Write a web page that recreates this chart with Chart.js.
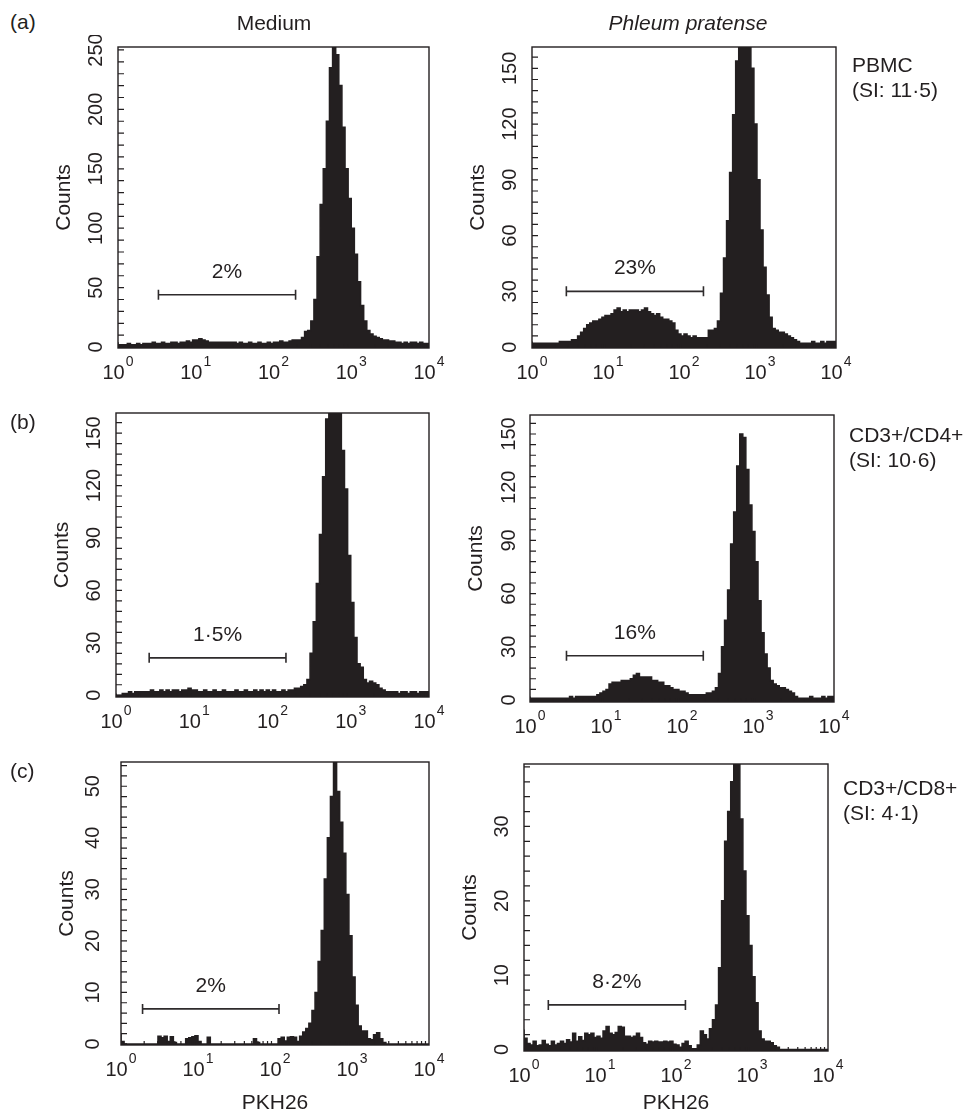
<!DOCTYPE html>
<html>
<head>
<meta charset="utf-8">
<title>PKH26 dilution histograms</title>
<script src="https://cdn.jsdelivr.net/npm/chart.js@4.4.1/dist/chart.umd.min.js"></script>
<style>
  body { margin: 0; background: #fff; }
  #page { position: relative; width: 967px; height: 1111px; overflow: hidden;
          font-family: "Liberation Sans", Arial, Helvetica, sans-serif; color: #231f20; }
  .lbl { position: absolute; font-size: 21px; line-height: 25px; white-space: nowrap; }
  .ctr { width: 300px; text-align: center; }
  canvas { position: absolute; }
</style>
</head>
<body>
<div id="page">
  <div class="lbl" style="left:10px;top:9px">(a)</div>
  <div class="lbl" style="left:10px;top:409px">(b)</div>
  <div class="lbl" style="left:10px;top:758px">(c)</div>
  <div class="lbl ctr" style="left:124px;top:10px">Medium</div>
  <div class="lbl ctr" style="left:538px;top:10px"><i>Phleum pratense</i></div>
  <div class="lbl" style="left:852px;top:52px">PBMC<br>(SI: 11·5)</div>
  <div class="lbl" style="left:849px;top:422px">CD3+/CD4+<br>(SI: 10·6)</div>
  <div class="lbl" style="left:843px;top:775px">CD3+/CD8+<br>(SI: 4·1)</div>
</div>

<script>
// --- data: counts per channel, 100 channels over 4 decades (25 per decade) ---
const medPBMC = [4,2,2,2,3,2,2,3,2,3, 3,3,4,3,3,4,3,3,4,4, 3,4,4,5,4,6,6,7,6,5, 4,4,4,4,4,4,4,4,4,3,
  4,3,3,4,3,3,4,3,3,4, 3,4,4,5,4,4,5,6,6,6, 8,13,14,22,40,76,120,150,190,235,
  253,246,220,185,150,125,100,78,55,35, 22,14,11,9,8,7,6,6,5,5, 4,4,3,4,3,4,4,3,4,3];
const phlPBMC = [3,2,2,2,2,2,2,2,2,2, 3,3,3,3,4,4,6,8,10,12, 13,14,14,15,16,17,17,18,20,21,
  19,20,19,20,20,20,19,20,21,19, 18,17,18,16,15,15,14,13,9,7, 6,7,6,5,6,5,5,5,5,9,
  9,10,14,29,48,68,94,125,154,168, 180,182,170,150,120,90,63,43,28,16,
  10,9,8,8,7,6,5,4,3,2, 2,2,2,3,2,2,3,2,3,3];
const medCD4 = [1,0,0,1,1,2,1,2,2,2, 2,2,3,2,2,3,2,3,2,3, 3,2,3,3,4,3,3,2,2,3, 2,2,3,2,2,3,2,2,2,3,
  2,2,3,2,2,3,2,3,2,3, 2,3,2,2,3,2,3,3,4,4, 5,6,9,24,42,64,92,125,158,172,
  182,178,166,140,118,80,53,33,18,16, 9,7,8,7,6,4,3,2,2,2, 2,1,2,2,1,2,2,1,2,2];
const phlCD4 = [2,1,1,1,1,1,1,1,1,1, 1,1,1,1,2,1,2,2,2,2, 2,2,2,3,4,5,6,9,10,10,
  10,11,11,11,12,14,15,13,13,13, 13,11,11,10,10,8,8,7,6,6, 5,5,4,3,3,3,3,3,3,4,
  4,5,7,15,30,45,62,88,106,132, 150,148,130,110,95,78,56,38,26,18,
  11,9,8,7,7,6,5,4,2,1, 1,1,1,2,1,1,1,2,1,2];
const medCD8 = [2,0.5,0,0,0,0,0,0,0,0, 0,0,0,1.5,1.2,1.5,0.5,1.4,0.3,0, 0,0,1,1.2,1.4,1.6,0.5,0,0,1.3,
  0,0,0,0,0,0,0,0,0,0, 0,0,0,0,1,0.3,0,0,0,0, 0,0,1,1.3,0.6,1.3,1.4,1.3,0.5,1.5,
  2.3,3,4,6.5,10,16,22,32,40,48, 55,49,43,37,29,21,13,7.5,3.5,2.5,
  2.5,1,0.8,1.8,2.2,1,0.3,0,0,0, 0,0,0,0,0,0,0,0,0,0];
const phlCD8 = [2.7,1.5,0.8,0.6,1.1,0.5,0.6,1.2,0.7,0.5, 1.1,0.6,0.8,1.1,0.8,1.3,1.0,2.2,1.1,1.7,
  1.2,2.2,2.0,2.2,1.6,1.8,1.5,2.5,3.1,2.2, 2.0,2.3,3.1,3.0,1.8,1.8,1.6,1.8,2.2,1.6,
  0.9,0.7,1.1,1.0,1.1,1.0,1.0,1.1,1.0,1.1, 0.7,0.6,0.3,0.8,1.1,0.5,0.1,0.1,0.6,2.5,
  2.0,1.4,2.8,4.0,6,11,20,28,32,36, 42,40,31,24,18,14,9.8,6.3,2.5,1.4,
  1.1,1.1,0.9,0.5,0.3,0,0,0,0,0, 0,0,0,0,0,0,0,0,0,0];

// x ticks: decades 10^0..10^4 sit on channels 0,25,50,75,100
const decadeChannels = [0, 25, 50, 75, 100];
const decadeExponents = ['0', '1', '2', '3', '4'];

// y tick labels
const yTicksPBMCMed = ['0', '50', '100', '150', '200', '250'];
const yTicks150 = ['0', '30', '60', '90', '120', '150'];
const yTicksCD8Med = ['0', '10', '20', '30', '40', '50'];
const yTicksCD8Phl = ['0', '10', '20', '30'];

// gates (channels / counts)
const gateFrom = [13, 11.3, 10.6, 12, 7, 8];
const gateTo = [57.1, 56.4, 54.3, 57, 51.3, 53.1];
const gateLevel = [44, 30, 21.4, 25, 6.8, 6];
const gateLabels = ['2%', '23%', '1·5%', '16%', '2%', '8·2%'];

const INK = '#231f20';
const FONT = '"Liberation Sans", Arial, Helvetica, sans-serif';

// --- panel layout: frame [left, top, right, bottom] in page px ---
const panels = [
  { counts: medPBMC, frame: [118, 47, 429, 348], yMin: -0.8, yMax: 252.5, yStep: 10, yMajor: 50, yLabels: yTicksPBMCMed, yGap: 16 },
  { counts: phlPBMC, frame: [532, 47, 836, 348], yMin: -0.5, yMax: 161.5, yStep: 6, yMajor: 30, yLabels: yTicks150, yGap: 16 },
  { counts: medCD4, frame: [116, 413, 429, 697], yMin: -1, yMax: 161.5, yStep: 6, yMajor: 30, yLabels: yTicks150, yGap: 16 },
  { counts: phlCD4, frame: [530, 415, 834, 702], yMin: -1.1, yMax: 160.7, yStep: 6, yMajor: 30, yLabels: yTicks150, yGap: 15 },
  { counts: medCD8, frame: [121, 762, 429, 1045], yMin: -0.2, yMax: 54.7, yStep: 2, yMajor: 10, yLabels: yTicksCD8Med, yGap: 22, xTitleGap: 64 },
  { counts: phlCD8, frame: [524, 764, 828, 1051], yMin: -0.2, yMax: 38.4, yStep: 2, yMajor: 10, yLabels: yTicksCD8Phl, yGap: 16, xTitleGap: 58 }
];

const PAD = { left: 80, top: 12, right: 30, bottom: 72 };

// frame, inward ticks, rotated labels, gate marker
const framePlugin = {
  id: 'frame',
  afterDatasetsDraw(chart, args, o) {
    const { ctx, chartArea: a, scales: { x, y } } = chart;
    ctx.save();
    ctx.strokeStyle = INK;
    ctx.fillStyle = INK;
    ctx.lineWidth = 1.4;
    ctx.strokeRect(a.left, a.top, a.right - a.left, a.bottom - a.top);

    ctx.lineWidth = 1.2;
    ctx.beginPath();
    for (let v = 0; v <= o.yMax + 1e-6; v += o.yStep) {
      const py = y.getPixelForValue(v);
      ctx.moveTo(a.left, py); ctx.lineTo(a.left + 6, py);
    }
    for (let d = 0; d < 4; d++) {
      for (let m = 2; m <= 9; m++) {
        const px = x.getPixelForValue(25 * (d + Math.log10(m)));
        ctx.moveTo(px, a.bottom); ctx.lineTo(px, a.bottom - 4);
      }
    }
    ctx.stroke();

    // y tick labels, rotated
    ctx.font = '20px ' + FONT;
    ctx.textAlign = 'center';
    ctx.textBaseline = 'alphabetic';
    o.yLabels.forEach((lab, k) => {
      ctx.save();
      ctx.translate(a.left - o.yGap, y.getPixelForValue(k * o.yMajor));
      ctx.rotate(-Math.PI / 2);
      ctx.fillText(lab, 0, 0);
      ctx.restore();
    });

    // axis title
    ctx.save();
    ctx.font = '21px ' + FONT;
    ctx.translate(a.left - 48, (a.top + a.bottom) / 2);
    ctx.rotate(-Math.PI / 2);
    ctx.fillText('Counts', 0, 0);
    ctx.restore();

    // x tick labels 10^n
    ctx.textAlign = 'left';
    decadeChannels.forEach((ch, k) => {
      const px = x.getPixelForValue(ch);
      ctx.font = '20px ' + FONT;
      const wb = ctx.measureText('10').width;
      ctx.font = '14px ' + FONT;
      const we = ctx.measureText(decadeExponents[k]).width;
      const left = px - (wb + we + 1) / 2;
      ctx.font = '20px ' + FONT;
      ctx.fillText('10', left, a.bottom + 31);
      ctx.font = '14px ' + FONT;
      ctx.fillText(decadeExponents[k], left + wb + 1, a.bottom + 18);
    });

    if (o.xTitleGap) {
      ctx.textAlign = 'center';
      ctx.font = '21px ' + FONT;
      ctx.fillText('PKH26', (a.left + a.right) / 2, a.bottom + o.xTitleGap);
    }

    // gate
    const gx1 = x.getPixelForValue(o.gate.from), gx2 = x.getPixelForValue(o.gate.to);
    const gy = y.getPixelForValue(o.gate.level);
    ctx.strokeStyle = '#2e2b2c';
    ctx.lineWidth = 1.6;
    ctx.beginPath();
    ctx.moveTo(gx1, gy); ctx.lineTo(gx2, gy);
    ctx.moveTo(gx1, gy - 5); ctx.lineTo(gx1, gy + 5);
    ctx.moveTo(gx2, gy - 5); ctx.lineTo(gx2, gy + 5);
    ctx.stroke();
    ctx.textAlign = 'center';
    ctx.font = '21px ' + FONT;
    ctx.fillText(o.gate.label, (gx1 + gx2) / 2, gy - 17);
    ctx.restore();
  }
};

const page = document.getElementById('page');

panels.forEach((p, idx) => {
  const [L, T, R, B] = p.frame;
  const canvas = document.createElement('canvas');
  canvas.width = R - L + PAD.left + PAD.right;
  canvas.height = B - T + PAD.top + PAD.bottom;
  canvas.style.left = (L - PAD.left) + 'px';
  canvas.style.top = (T - PAD.top) + 'px';
  page.insertBefore(canvas, page.firstChild);

  const pts = p.counts.map((c, i) => ({ x: i, y: c }));
  pts.push({ x: p.counts.length, y: p.counts[p.counts.length - 1] });

  new Chart(canvas, {
    type: 'line',
    data: {
      datasets: [{
        data: pts,
        stepped: 'after',
        fill: 'start',
        backgroundColor: INK,
        borderColor: INK,
        borderWidth: 1.5,
        pointRadius: 0
      }]
    },
    options: {
      responsive: false,
      animation: false,
      events: [],
      layout: { padding: PAD },
      plugins: {
        legend: { display: false },
        tooltip: { enabled: false },
        frame: {
          yMax: p.yMax, yStep: p.yStep, yMajor: p.yMajor, yLabels: p.yLabels,
          yGap: p.yGap, xTitleGap: p.xTitleGap,
          gate: { from: gateFrom[idx], to: gateTo[idx], level: gateLevel[idx], label: gateLabels[idx] }
        }
      },
      scales: {
        x: { type: 'linear', display: false, min: 0, max: 100 },
        y: { display: false, min: p.yMin, max: p.yMax }
      }
    },
    plugins: [framePlugin]
  });
});
</script>
</body>
</html>
